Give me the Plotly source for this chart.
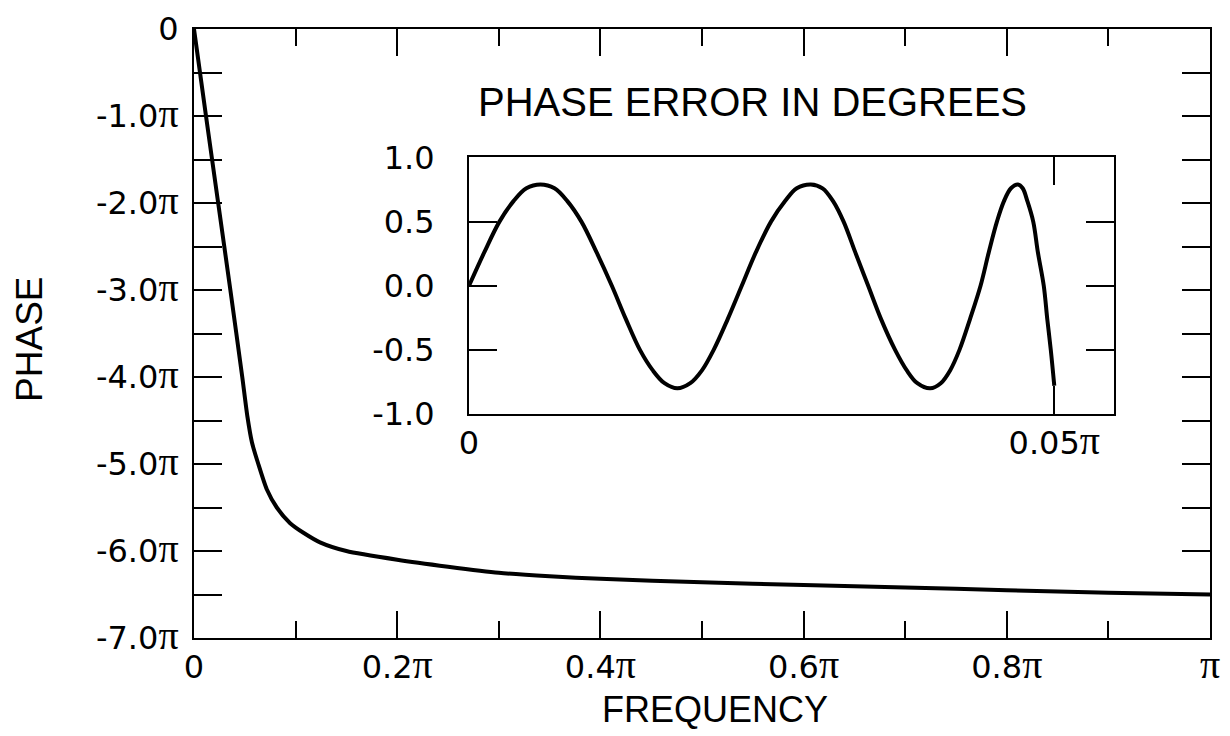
import plotly.graph_objects as go

# ---- data (frequency and phase in units of pi) ----
freq_main = [0, 0.0118, 0.0238, 0.0358, 0.0475, 0.0525, 0.057, 0.0633, 0.0716, 0.0815,
             0.0946, 0.1077, 0.124, 0.15, 0.2, 0.25, 0.3, 0.35, 0.4, 0.5, 0.6, 0.7,
             0.8, 0.9, 1.0]
phase_main = [0, -1.0, -2.0, -3.0, -4.0, -4.45, -4.75, -5.0, -5.29, -5.5,
              -5.68, -5.79, -5.9, -6.0, -6.1, -6.18, -6.25, -6.29, -6.32, -6.36, -6.39, -6.42,
              -6.45, -6.48, -6.5]

freq_err = [0, 0.0013, 0.0026, 0.0038, 0.0049, 0.0061,
            0.0073, 0.0084, 0.0096, 0.0109, 0.0122,
            0.0134, 0.0146, 0.0157, 0.0167, 0.0178,
            0.0189, 0.0199, 0.0209, 0.0221, 0.0233,
            0.0245, 0.0258, 0.0270, 0.0280, 0.0292,
            0.0302, 0.0311, 0.0320, 0.0330, 0.0341,
            0.0352, 0.0364, 0.0374, 0.0383, 0.0394,
            0.0403, 0.0411, 0.0419, 0.0428, 0.0437,
            0.0444, 0.0451, 0.0457, 0.0463, 0.0469,
            0.0473, 0.0477, 0.0482, 0.0486, 0.0491,
            0.0494, 0.0497, 0.0500]
phase_err_deg = [0, 0.26, 0.5, 0.66, 0.76, 0.79,
                 0.76, 0.66, 0.5, 0.26, 0,
                 -0.26, -0.5, -0.66, -0.76, -0.80,
                 -0.76, -0.66, -0.5, -0.26, 0,
                 0.26, 0.5, 0.66, 0.76, 0.79,
                 0.76, 0.66, 0.5, 0.26, 0,
                 -0.26, -0.5, -0.66, -0.76, -0.80,
                 -0.76, -0.66, -0.5, -0.26, 0,
                 0.26, 0.5, 0.66, 0.76, 0.79,
                 0.76, 0.66, 0.5, 0.26, 0,
                 -0.26, -0.5, -0.78]

PI = '<span style="font-family:Liberation Serif;font-size:40px">π</span>'
main_x_vals = [0, 0.2, 0.4, 0.6, 0.8, 1.0]
main_x_text = ["0", "0.2" + PI, "0.4" + PI, "0.6" + PI, "0.8" + PI, PI]
main_x_minor = [0.1, 0.3, 0.5, 0.7, 0.9]
main_y_vals = [0, -1, -2, -3, -4, -5, -6, -7]
main_y_text = ["0"] + ["-%d.0%s" % (k, PI) for k in range(1, 8)]
main_y_minor = [-0.5, -1.5, -2.5, -3.5, -4.5, -5.5, -6.5]

inset_x_vals = [0, 0.05]
inset_x_text = ["0", "0.05" + PI]
inset_y_vals = [1.0, 0.5, 0.0, -0.5, -1.0]
inset_y_text = ["1.0", "0.5", "0.0", "-0.5", "-1.0"]

TITLE_FONT = "Liberation Sans, Arial, sans-serif"
TICK_FONT = "DejaVu Sans, Liberation Sans, sans-serif"
BLACK = "#000000"

fig = go.Figure()
fig.add_trace(go.Scatter(x=freq_main, y=phase_main, mode="lines",
                         line=dict(color=BLACK, width=4, shape="spline", smoothing=0.6),
                         xaxis="x", yaxis="y", showlegend=False, hoverinfo="skip"))
fig.add_trace(go.Scatter(x=freq_err, y=phase_err_deg, mode="lines",
                         line=dict(color=BLACK, width=4, shape="spline", smoothing=1.0),
                         xaxis="x2", yaxis="y2", showlegend=False, hoverinfo="skip"))

common = dict(showline=True, linewidth=2, linecolor=BLACK, mirror="ticks",
              ticks="inside", tickwidth=2, tickcolor=BLACK, showgrid=False,
              zeroline=False, automargin=False,
              tickfont=dict(family=TICK_FONT, size=32, color=BLACK))

# the page body adds an 8px offset, so the figure is 8px smaller than the window
fig.update_layout(
    width=1222, height=728,
    margin=dict(l=186, r=20, t=21, b=98),
    paper_bgcolor="white", plot_bgcolor="white",
    xaxis=dict(range=[0, 1], tickmode="array", tickvals=main_x_vals, ticktext=main_x_text,
               ticklen=27,
               minor=dict(tickmode="array", tickvals=main_x_minor, ticklen=17, tickwidth=2,
                          tickcolor=BLACK, ticks="inside", showgrid=False),
               **common),
    yaxis=dict(range=[-7, 0], tickmode="array", tickvals=main_y_vals, ticktext=main_y_text,
               ticklen=28, ticklabelstandoff=7,
               minor=dict(tickmode="array", tickvals=main_y_minor, ticklen=28, tickwidth=2,
                          tickcolor=BLACK, ticks="inside", showgrid=False),
               **common),
    xaxis2=dict(domain=[0.2707, 0.9055], anchor="y2", range=[0, 0.0551],
                tickmode="array", tickvals=inset_x_vals, ticktext=inset_x_text,
                ticklen=28, **common),
    yaxis2=dict(domain=[0.3678, 0.789], anchor="x2", range=[-1, 1],
                tickmode="array", tickvals=inset_y_vals, ticktext=inset_y_text,
                ticklen=28, ticklabelstandoff=26, **common),
    annotations=[
        dict(text="FREQUENCY", x=0.5128, y=-0.118, xref="paper", yref="paper",
             showarrow=False, xanchor="center", yanchor="middle",
             font=dict(family=TITLE_FONT, size=36, color=BLACK)),
        dict(text="PHASE", x=-0.1614, y=0.4895, xref="paper", yref="paper",
             showarrow=False, xanchor="center", yanchor="middle", textangle=-90,
             font=dict(family=TITLE_FONT, size=37, color=BLACK)),
        dict(text="PHASE ERROR IN DEGREES", x=0.5497, y=0.88, xref="paper", yref="paper",
             showarrow=False, xanchor="center", yanchor="middle",
             font=dict(family=TITLE_FONT, size=40, color=BLACK)),
    ],
)

fig.write_html("out.html")
